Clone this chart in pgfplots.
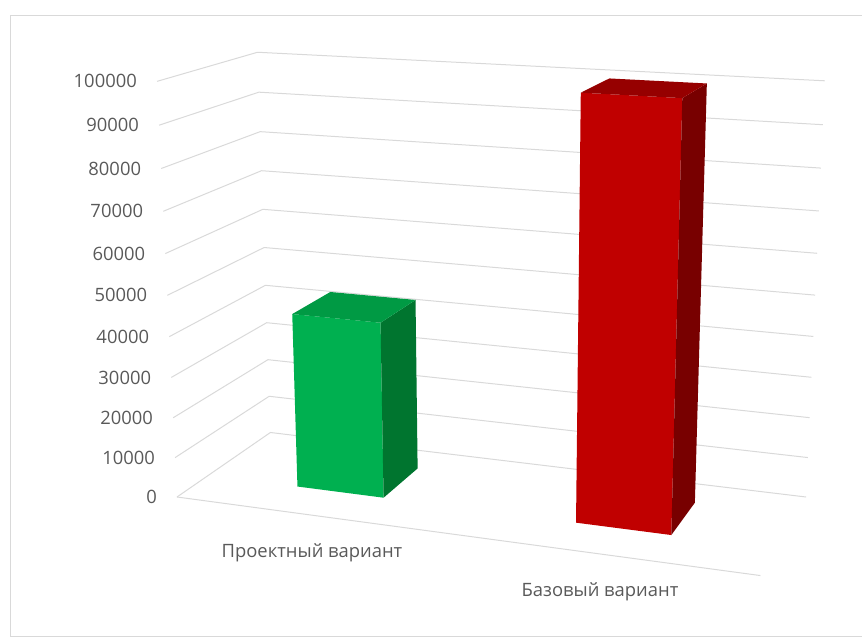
\documentclass[border=0pt]{standalone}
\usepackage{fontspec}
\setmainfont{Open Sans}
\usepackage{pgfplots}
\pgfplotsset{compat=1.18}
\definecolor{gridc}{HTML}{D9D9D9}
\definecolor{txt}{HTML}{595959}
\definecolor{gfront}{HTML}{00B050}
\definecolor{gtop}{HTML}{009A44}
\definecolor{gside}{HTML}{00752F}
\definecolor{rfront}{HTML}{C00000}
\definecolor{rtop}{HTML}{960000}
\definecolor{rside}{HTML}{780000}
% perspective (vanishing points) applied to each data point
\pgfplotsset{
  persp/.style={
    filter point/.code={%
      \begingroup
      \pgfkeys{/pgf/fpu=true}%
      \pgfmathparse{1-0.0494*(\pgfkeysvalueof{/data point/x})+0.0976*(\pgfkeysvalueof{/data point/y})-0.000000579*(\pgfkeysvalueof{/data point/z})}%
      \let\dd\pgfmathresult
      \pgfmathparse{(\pgfkeysvalueof{/data point/x})/\dd}\xdef\perspx{\pgfmathresult}%
      \pgfmathparse{(\pgfkeysvalueof{/data point/y})/\dd}\xdef\perspy{\pgfmathresult}%
      \pgfmathparse{(\pgfkeysvalueof{/data point/z})/(1000*\dd)}\xdef\perspz{\pgfmathresult}%
      \endgroup
      \pgfkeyslet{/data point/x}{\perspx}%
      \pgfkeyslet{/data point/y}{\perspy}%
      \pgfkeyslet{/data point/z}{\perspz}%
    }
  }
}
\begin{document}
\begin{tikzpicture}
\begin{axis}[
  at={(177bp,142bp)}, anchor=origin,
  x={(262.9bp,-35.4bp)}, y={(102.5bp,70.8bp)}, z={(-0.188bp,3.916bp)},
  xmin=0, xmax=2.3, ymin=0, ymax=1, zmin=0, zmax=110,
  clip=false,
  axis line style={draw=none},
  tick style={draw=none},
  major tick length=0pt,
  xtick={0.5135,1.609},
  xticklabels={Проектный вариант, Базовый вариант},
  ytick=\empty,
  ztick={0,10.0582,20.2343,30.5303,40.9484,51.4907,62.1594,72.9570,83.8856,94.9477,106.1458},
  zticklabels={0,10000,20000,30000,40000,50000,60000,70000,80000,90000,100000},
  ticklabel style={font=\fontsize{18.4bp}{22bp}\selectfont, text=txt, inner sep=0pt},
  xticklabel style={anchor=center, yshift=-38bp},
  zticklabel style={anchor=east, xshift=-20bp},
]
% gridlines on side and back walls
\pgfplotsinvokeforeach{0,10000,20000,30000,40000,50000,60000,70000,80000,90000,100000}{
  \addplot3[gridc, line width=1bp, persp] coordinates {(0,0,#1) (0,1,#1) (2,1,#1)};
}
% floor front edge
\addplot3[gridc, line width=1bp, persp] coordinates {(0,0,0) (2,0,0)};
% Проектный вариант: 43500
\addplot3[fill=gfront, draw=none, persp] coordinates {(0.34,0.32,0) (0.66,0.32,0) (0.66,0.32,43500) (0.34,0.32,43500)} -- cycle;
\addplot3[fill=gside, draw=none, persp] coordinates {(0.66,0.32,0) (0.66,0.75,0) (0.66,0.75,43500) (0.66,0.32,43500)} -- cycle;
\addplot3[fill=gtop, draw=none, persp] coordinates {(0.34,0.32,43500) (0.66,0.32,43500) (0.66,0.75,43500) (0.34,0.75,43500)} -- cycle;
% Базовый вариант: 100000
\addplot3[fill=rfront, draw=none, persp] coordinates {(1.34,0.32,0) (1.66,0.32,0) (1.66,0.32,100000) (1.34,0.32,100000)} -- cycle;
\addplot3[fill=rside, draw=none, persp] coordinates {(1.66,0.32,0) (1.66,0.75,0) (1.66,0.75,100000) (1.66,0.32,100000)} -- cycle;
\addplot3[fill=rtop, draw=none, persp] coordinates {(1.34,0.32,100000) (1.66,0.32,100000) (1.66,0.75,100000) (1.34,0.75,100000)} -- cycle;
\end{axis}
\draw[gridc, line width=1bp] (870bp,623bp) -- (10bp,623bp) -- (10bp,2bp) -- (870bp,2bp);
\pgfresetboundingbox
\path[use as bounding box] (0,0) rectangle (862bp,639bp);
\end{tikzpicture}
\end{document}
